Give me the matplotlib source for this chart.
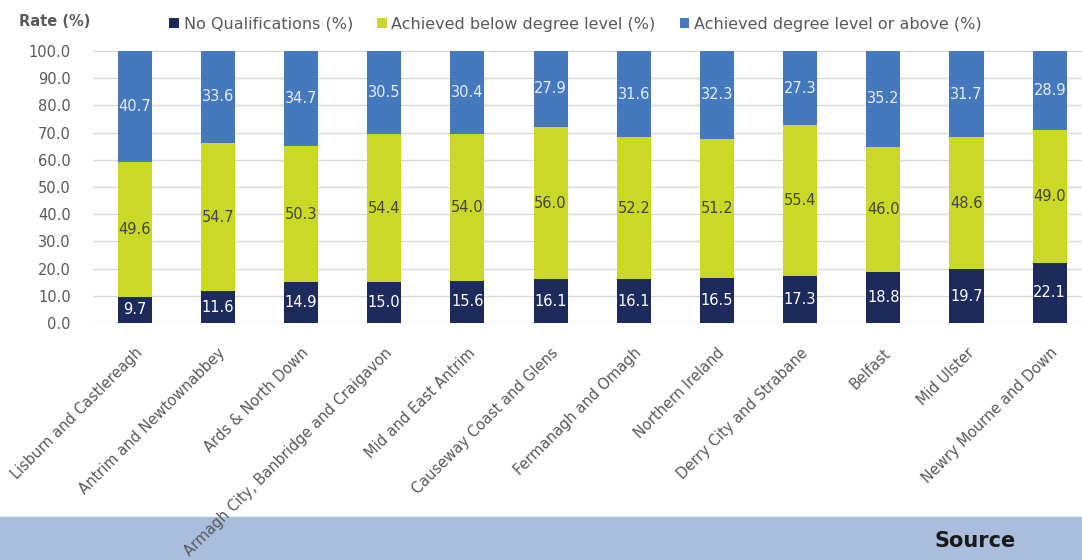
import matplotlib.pyplot as plt
import numpy as np

# Highest qualification by council area
areas = ['Lisburn and Castlereagh', 'Antrim and Newtownabbey', 'Ards & North Down',
         'Armagh City, Banbridge and Craigavon', 'Mid and East Antrim',
         'Causeway Coast and Glens', 'Fermanagh and Omagh', 'Northern Ireland',
         'Derry City and Strabane', 'Belfast', 'Mid Ulster', 'Newry Mourne and Down']
no_qual = [9.7, 11.6, 14.9, 15.0, 15.6, 16.1, 16.1, 16.5, 17.3, 18.8, 19.7, 22.1]
below_degree = [49.6, 54.7, 50.3, 54.4, 54.0, 56.0, 52.2, 51.2, 55.4, 46.0, 48.6, 49.0]
degree_plus = [40.7, 33.6, 34.7, 30.5, 30.4, 27.9, 31.6, 32.3, 27.3, 35.2, 31.7, 28.9]
yticks = np.arange(0, 101, 10)

plt.rcParams['font.family'] = ['DejaVu Sans']
grey = '#595959'
c_navy = '#1d2a5c'
c_lime = '#c9d925'
c_blue = '#4479be'

fig = plt.figure(figsize=(10.82, 5.6), dpi=100)
ax = fig.add_axes([93/1082, 1-323/560, 990/1082, 272/560])

x = np.arange(len(areas))
w = 0.41
b1 = ax.bar(x, no_qual, w, color=c_navy, label='No Qualifications (%)', zorder=3)
bot2 = np.array(no_qual)
b2 = ax.bar(x, below_degree, w, bottom=bot2, color=c_lime,
            label='Achieved below degree level (%)', zorder=3)
bot3 = bot2 + np.array(below_degree)
b3 = ax.bar(x, degree_plus, w, bottom=bot3, color=c_blue,
            label='Achieved degree level or above (%)', zorder=3)

ax.bar_label(b1, labels=['%.1f' % v for v in no_qual], label_type='center',
             color='white', fontsize=10.5, zorder=4)
ax.bar_label(b2, labels=['%.1f' % v for v in below_degree], label_type='center',
             color='#454545', fontsize=10.5, zorder=4)
ax.bar_label(b3, labels=['%.1f' % v for v in degree_plus], label_type='center',
             color='#e6ecf7', fontsize=10.5, zorder=4)

ax.set_ylim(0, 100)
ax.set_xlim(-0.5, 11.4)
ax.set_yticks(yticks)
ax.set_yticklabels(['%.1f' % v for v in yticks], color=grey, fontsize=10.5)
ax.yaxis.grid(True, color='#d9d9d9', lw=1, zorder=0)
ax.set_xticks(x)
ax.set_xticklabels(areas, rotation=45, ha='right', rotation_mode='anchor',
                   color=grey, fontsize=10.5)
ax.tick_params(axis='both', length=0)
ax.tick_params(axis='x', pad=16)
ax.tick_params(axis='y', pad=16)
for s in ax.spines.values():
    s.set_visible(False)

fig.text(19/1082, 1-22/560, 'Rate (%)', color=grey, fontsize=10.5,
         fontweight='bold', va='center')
fig.legend(handles=[b1, b2, b3], loc='center left', bbox_to_anchor=(155/1082, 1-24/560),
           ncol=3, frameon=False, fontsize=11.5, handlelength=0.6, handleheight=0.6,
           handletextpad=0.3, columnspacing=1.5, labelcolor=grey)

# footer band
fig.patches.append(plt.Rectangle((0, 0), 1, 43/560, transform=fig.transFigure,
                                 color='#a9bedc', zorder=-1))
fig.text(975/1082, 1-541/560, 'Source', fontsize=15, fontweight='bold',
         color='#1a1a1a', ha='center', va='center')

plt.savefig('out.png', dpi=100)
